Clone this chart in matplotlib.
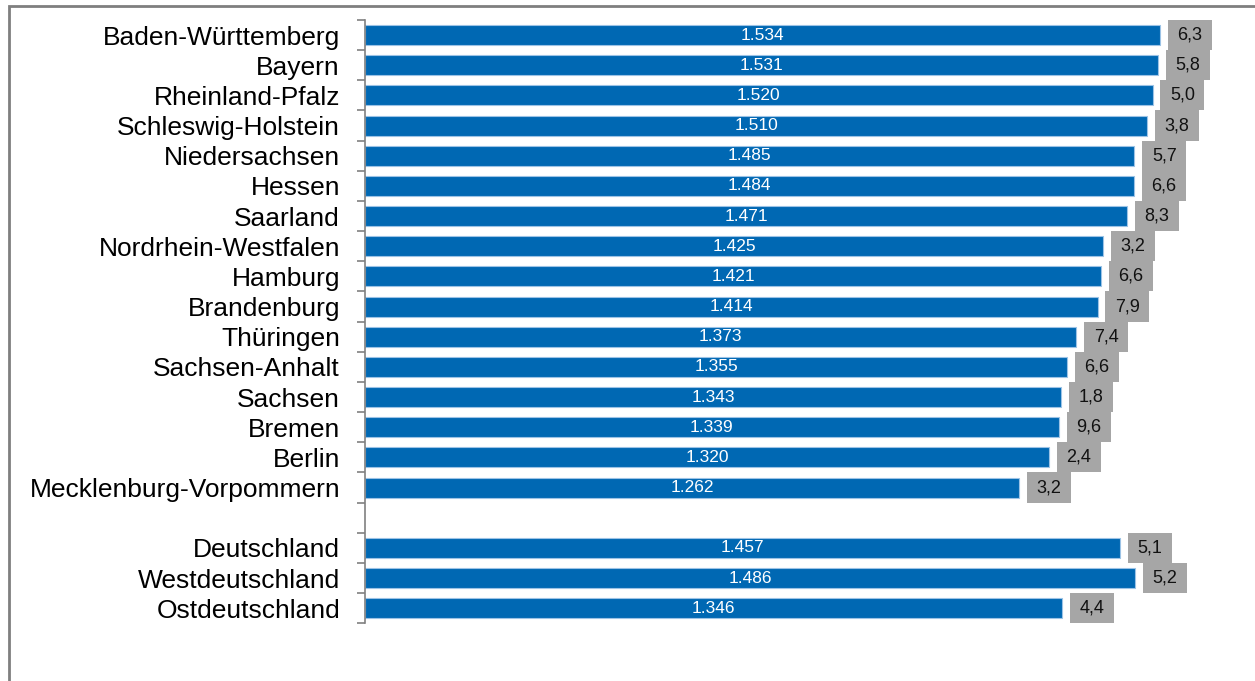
import numpy as np
import matplotlib
matplotlib.use("Agg")
import matplotlib.pyplot as plt
from matplotlib.patches import Rectangle

plt.rcParams['font.family'] = ['Liberation Sans', 'DejaVu Sans']

# data
laender = ['Baden-Württemberg', 'Bayern', 'Rheinland-Pfalz', 'Schleswig-Holstein',
           'Niedersachsen', 'Hessen', 'Saarland', 'Nordrhein-Westfalen', 'Hamburg',
           'Brandenburg', 'Thüringen', 'Sachsen-Anhalt', 'Sachsen', 'Bremen', 'Berlin',
           'Mecklenburg-Vorpommern']
werte_laender = [1534, 1531, 1520, 1510, 1485, 1484, 1471, 1425, 1421, 1414,
                 1373, 1355, 1343, 1339, 1320, 1262]
prozent_laender = [6.3, 5.8, 5.0, 3.8, 5.7, 6.6, 8.3, 3.2, 6.6, 7.9,
                   7.4, 6.6, 1.8, 9.6, 2.4, 3.2]

gesamt = ['Deutschland', 'Westdeutschland', 'Ostdeutschland']
werte_gesamt = [1457, 1486, 1346]
prozent_gesamt = [5.1, 5.2, 4.4]

labels = laender + [''] + gesamt
werte = werte_laender + [np.nan] + werte_gesamt
prozent = prozent_laender + [np.nan] + prozent_gesamt

BLUE = '#0068B3'
GREY_BOX = '#A6A6A6'

fig = plt.figure(figsize=(12.55, 6.81), dpi=100)
ax = fig.add_axes([365/1255, 1 - 623.3/681, 885/1255, (623.3 - 20)/681])

y = np.arange(len(labels))
ax.barh(y, werte, height=0.66, color=BLUE, edgecolor='#9CC3E6', linewidth=0.8, zorder=2)

# grey boxes at the bar ends (gap and width in data units)
gap = 15
box_w = 85
for yi, w, p in zip(y, werte, prozent):
    if np.isnan(w):
        continue
    ax.text(w / 2, yi, f'{w/1000:.3f}', color='white', fontsize=12.5,
            ha='center', va='center', zorder=3)
    ax.add_patch(Rectangle((w + gap, yi - 0.5), box_w, 1.0, facecolor=GREY_BOX,
                           edgecolor='none', zorder=2))
    ax.text(w + gap + box_w / 2, yi, f'{p:.1f}'.replace('.', ','), color='#111111',
            fontsize=13, ha='center', va='center', zorder=4)

ax.set_xlim(0, 1708)
ax.set_ylim(len(labels) - 0.5, -0.5)

ax.set_yticks(y)
ax.set_yticklabels(labels, fontsize=19)
ax.set_yticks(np.arange(-0.5, len(labels)), minor=True)
ax.tick_params(axis='y', which='major', length=0, pad=18)
ax.tick_params(axis='y', which='minor', length=6, width=1.2, color='#808080')
ax.set_xticks([])

for s in ['top', 'right', 'bottom']:
    ax.spines[s].set_visible(False)
ax.spines['left'].set_color('#808080')
ax.spines['left'].set_linewidth(1.2)

# outer frame of the chart area
fig.patches.append(Rectangle((9/1255, -0.05), 1.1, 1 - 6/681 + 0.05,
                             transform=fig.transFigure, fill=False,
                             edgecolor='#7F7F7F', linewidth=2))

fig.savefig('out.png', dpi=100)
